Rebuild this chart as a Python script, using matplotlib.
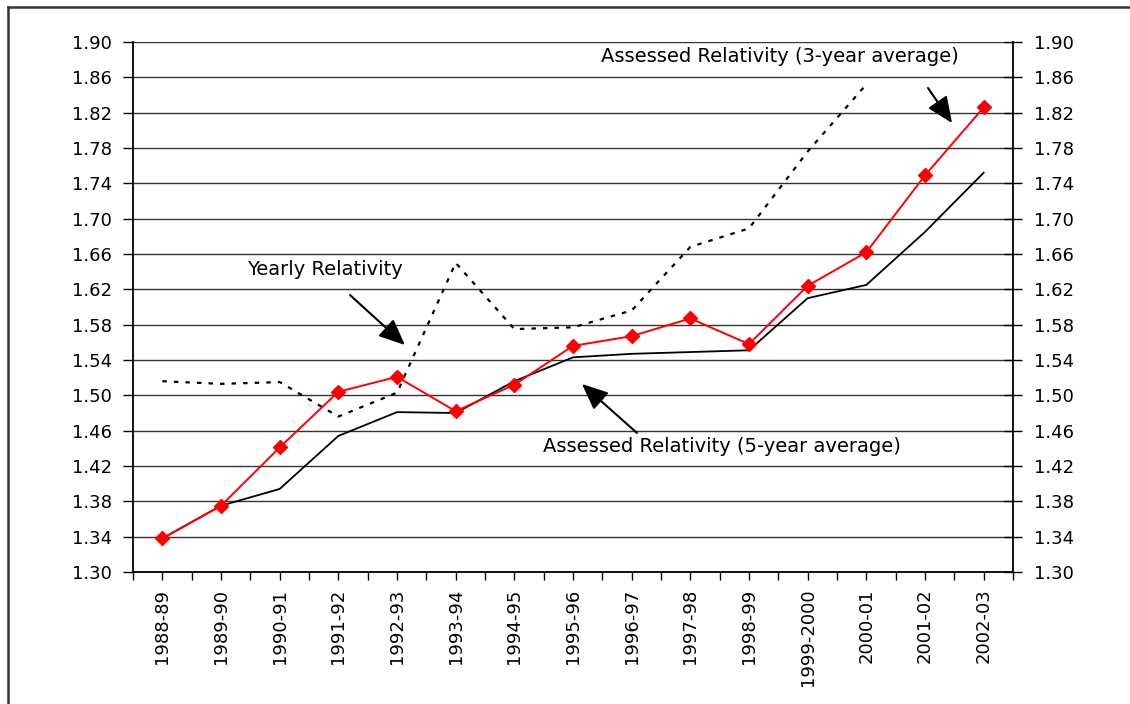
import numpy as np
import matplotlib
matplotlib.use('Agg')
import matplotlib.pyplot as plt
from matplotlib.lines import Line2D
from matplotlib.ticker import MultipleLocator

plt.rcParams['font.family'] = ['DejaVu Sans']

# data
years = ['1988-89', '1989-90', '1990-91', '1991-92', '1992-93', '1993-94', '1994-95',
         '1995-96', '1996-97', '1997-98', '1998-99', '1999-2000', '2000-01', '2001-02', '2002-03']
yearly = [1.516, 1.513, 1.515, 1.476, 1.503, 1.650, 1.575, 1.577, 1.596, 1.668, 1.689,
          1.776, 1.852, np.nan, np.nan]
avg3 = [1.338, 1.375, 1.441, 1.504, 1.521, 1.482, 1.512, 1.556, 1.567, 1.587, 1.558,
        1.624, 1.662, 1.749, 1.826]
avg5 = [1.338, 1.375, 1.394, 1.454, 1.481, 1.480, 1.516, 1.543, 1.547, 1.549, 1.551,
        1.610, 1.625, 1.685, 1.752]
yticks = np.round(np.arange(1.30, 1.901, 0.04), 2)

fig = plt.figure(figsize=(11.3, 7.04), dpi=100)
ax = fig.add_axes([133/1130, 1 - 572/704, 880/1130, 530/704])

x = np.arange(len(years))
ax.plot(x, yearly, color='black', lw=1.6, ls=(0, (2, 3.2)), zorder=3)
ax.plot(x, avg5, color='black', lw=1.3, zorder=3)
ax.plot(x, avg3, color='red', lw=1.4, marker='D', ms=7, mec='red', mfc='red', zorder=4)

ax.set_xlim(-0.5, len(years) - 0.5)
ax.set_ylim(1.30, 1.90)
ax.set_yticks(yticks)
ax.set_yticklabels([f'{v:.2f}' for v in yticks])
ax.set_xticks(x)
ax.set_xticklabels(years, rotation=90)
ax.xaxis.set_minor_locator(MultipleLocator(1, offset=0.5))

ax.grid(axis='y', color='#333333', lw=1.0)
ax.set_axisbelow(True)
ax.spines['top'].set_visible(False)
for s in ['left', 'right', 'bottom']:
    ax.spines[s].set_linewidth(1.3)
    ax.spines[s].set_color('black')

ax.tick_params(axis='y', which='both', direction='out', length=7, width=1.0,
               labelsize=13, pad=8, left=True, right=True, labelleft=True, labelright=True)
ax.tick_params(axis='y', which='major', right=True)
ax.yaxis.set_tick_params(which='major')
ax.tick_params(axis='x', which='both', direction='out', length=6, width=1.0, labelsize=13, pad=6)

# right side ticks cross the axis
for t in ax.yaxis.get_major_ticks():
    t.tick2line.set_marker('_')
    t.tick2line.set_markersize(13)

arrow = dict(arrowstyle='-|>,head_length=0.8,head_width=0.35', color='black', lw=1.5,
             mutation_scale=20, shrinkA=0, shrinkB=0)
ax.annotate('', xy=(0.309, 0.4283), xytext=(0.2466, 0.5226), xycoords='axes fraction',
            arrowprops=arrow)
ax.annotate('', xy=(0.9307, 0.8472), xytext=(0.9034, 0.9132), xycoords='axes fraction',
            arrowprops=arrow)
ax.annotate('', xy=(0.5102, 0.3547), xytext=(0.5727, 0.2623), xycoords='axes fraction',
            arrowprops=arrow)

ax.text(0.2182, 0.570, 'Yearly Relativity', transform=ax.transAxes, fontsize=14,
        ha='center', va='center')
ax.text(0.7352, 0.972, 'Assessed Relativity (3-year average)', transform=ax.transAxes,
        fontsize=14, ha='center', va='center')
ax.text(0.6693, 0.236, 'Assessed Relativity (5-year average)', transform=ax.transAxes,
        fontsize=14, ha='center', va='center')

# outer frame of the chart area
fig.add_artist(Line2D([8/1130, 8/1130], [1 - 7/704, 0], transform=fig.transFigure,
                      color='#333333', lw=1.8))
fig.add_artist(Line2D([8/1130, 1], [1 - 7/704, 1 - 7/704], transform=fig.transFigure,
                      color='#333333', lw=1.8))

fig.savefig('out.png', dpi=100)
